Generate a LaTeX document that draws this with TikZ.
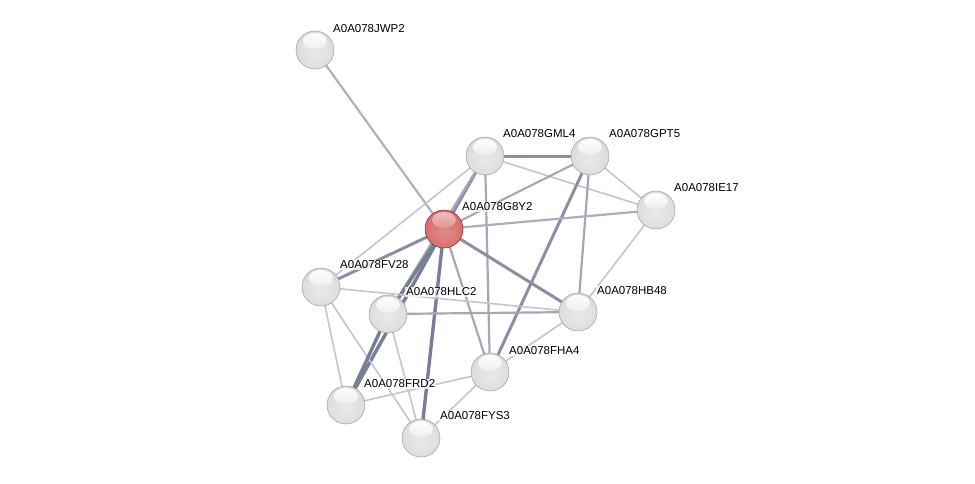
\documentclass[tikz,border=0pt]{standalone}
\usepackage{fontspec}
\setmainfont{Liberation Sans}
\usetikzlibrary{calc}
\definecolor{gbody}{RGB}{205,205,205}
\definecolor{rbody}{RGB}{212,88,88}
\pgfdeclareradialshading{sphgray}{\pgfpoint{0bp}{-4bp}}{color(0bp)=(white!55!gbody); color(22bp)=(white!35!gbody); color(36bp)=(gbody); color(44bp)=(gbody!80!black); color(50bp)=(gbody!50!black); color(56bp)=(gbody!45!black)}
\pgfdeclareradialshading{sphred}{\pgfpoint{0bp}{-4bp}}{color(0bp)=(white!30!rbody); color(22bp)=(white!15!rbody); color(36bp)=(rbody); color(44bp)=(rbody!85!black); color(50bp)=(rbody!60!black); color(56bp)=(rbody!55!black)}
\begin{document}
\begin{tikzpicture}[x=1pt,y=-1pt,
  prot/.style={circle,minimum size=38pt,inner sep=0pt,shading=sphgray,draw=gray!75,line width=0.5pt,
    path picture={\shade[top color=white,bottom color=gbody!70!white] ($(path picture bounding box.center)+(0,-9)$) ellipse (12pt and 8pt);}},
  seed/.style={circle,minimum size=38pt,inner sep=0pt,shading=sphred,draw=rbody!55!black,line width=0.5pt,
    path picture={\shade[top color=white!65!rbody,bottom color=rbody] ($(path picture bounding box.center)+(0,-9)$) ellipse (12pt and 8pt);}},
  lab/.style={font=\fontsize{11.5}{12}\selectfont,fill=white,fill opacity=0.75,text opacity=1,inner sep=1pt,anchor=west},
  ethin/.style={draw={rgb,255:red,194;green,197;blue,210},line width=1.6pt},
  emid/.style={draw={rgb,255:red,164;green,168;blue,185},line width=2.2pt},
  ethick/.style={draw={rgb,255:red,138;green,143;blue,164},line width=3pt},
  ebold/.style={draw={rgb,255:red,120;green,126;blue,150},line width=3.4pt}]
\useasboundingbox (0,0) rectangle (975,483);
\fill[white] (0,0) rectangle (975,483);
% coordinates
\coordinate (cJWP2) at (315,50);
\coordinate (cGML4) at (485,156);
\coordinate (cGPT5) at (590,156);
\coordinate (cIE17) at (656,210);
\coordinate (cG8Y2) at (444,229);
\coordinate (cFV28) at (321,287);
\coordinate (cHLC2) at (388,314);
\coordinate (cHB48) at (578,312);
\coordinate (cFHA4) at (490,372);
\coordinate (cFRD2) at (346,405);
\coordinate (cFYS3) at (421,438);
% edges
\path[emid,draw={rgb,255:red,174;green,177;blue,194}] (cJWP2) -- (cG8Y2);
\path[ethick] (cGML4) -- (cGPT5);
\path[ethin] (cGML4) -- (cIE17);
\path[ethick] (cGML4) -- (cG8Y2);
\path[ethin] (cGML4) -- (cFV28);
\path[emid] (cGML4) -- (cFHA4);
\path[emid] (cGML4) -- (cHLC2);
\path[emid] (cGPT5) -- (cG8Y2);
\path[ethin] (cGPT5) -- (cIE17);
\path[emid] (cGPT5) -- (cHB48);
\path[ethick] (cGPT5) -- (cFHA4);
\path[emid,draw={rgb,255:red,170;green,174;blue,192}] (cG8Y2) -- (cIE17);
\path[ethick] (cG8Y2) -- (cFV28);
\path[ebold] (cG8Y2) -- (cHLC2);
\path[ebold] (cG8Y2) -- (cFRD2);
\path[ebold] (cG8Y2) -- (cFYS3);
\path[emid] (cG8Y2) -- (cFHA4);
\path[ethick] (cG8Y2) -- (cHB48);
\path[ethin] (cIE17) -- (cHB48);
\path[ethin] (cFV28) -- (cHB48);
\path[ethin] (cFV28) -- (cFRD2);
\path[ethin] (cFV28) -- (cFYS3);
\path[emid] (cHLC2) -- (cHB48);
\path[ebold] (cHLC2) -- (cFRD2);
\path[ethin] (cHLC2) -- (cFYS3);
\path[ethin] (cHB48) -- (cFHA4);
\path[ethin] (cFHA4) -- (cFRD2);
\path[ethin] (cFHA4) -- (cFYS3);
% nodes
\node[prot] (JWP2) at (cJWP2) {};
\node[prot] (GML4) at (cGML4) {};
\node[prot] (GPT5) at (cGPT5) {};
\node[prot] (IE17) at (cIE17) {};
\node[seed] (G8Y2) at (cG8Y2) {};
\node[prot] (FV28) at (cFV28) {};
\node[prot] (HLC2) at (cHLC2) {};
\node[prot] (HB48) at (cHB48) {};
\node[prot] (FHA4) at (cFHA4) {};
\node[prot] (FRD2) at (cFRD2) {};
\node[prot] (FYS3) at (cFYS3) {};
% labels
\node[lab] (lJWP2) at ($(cJWP2)+(17,-21)$) {A0A078JWP2};
\node[lab] (lGML4) at ($(cGML4)+(17,-22)$) {A0A078GML4};
\node[lab] (lGPT5) at ($(cGPT5)+(18,-22)$) {A0A078GPT5};
\node[lab] (lIE17) at ($(cIE17)+(17,-22)$) {A0A078IE17};
\node[lab] (lG8Y2) at ($(cG8Y2)+(17,-22)$) {A0A078G8Y2};
\node[lab] (lFV28) at ($(cFV28)+(18,-22)$) {A0A078FV28};
\node[lab] (lHLC2) at ($(cHLC2)+(17,-22)$) {A0A078HLC2};
\node[lab] (lHB48) at ($(cHB48)+(18,-21)$) {A0A078HB48};
\node[lab] (lFHA4) at ($(cFHA4)+(18,-21)$) {A0A078FHA4};
\node[lab] (lFRD2) at ($(cFRD2)+(17,-21)$) {A0A078FRD2};
\node[lab] (lFYS3) at ($(cFYS3)+(18,-22)$) {A0A078FYS3};
\end{tikzpicture}
\end{document}
